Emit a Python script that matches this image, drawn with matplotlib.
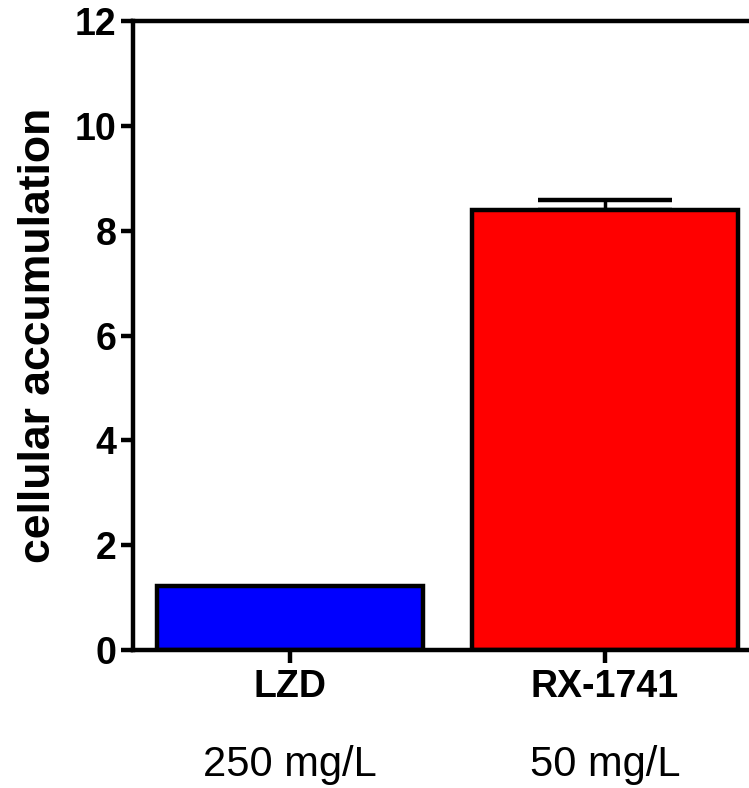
import numpy as np
import matplotlib
matplotlib.use('Agg')
import matplotlib.pyplot as plt
import matplotlib.transforms as mtransforms

plt.rcParams['font.family'] = ['Liberation Sans', 'DejaVu Sans']

drugs = ['LZD', 'RX-1741']
doses = ['250 mg/L', '50 mg/L']
accumulation = [1.22, 8.40]
sem_upper = [0.0, 0.19]
colors = ['#0000ff', '#ff0000']

fig = plt.figure(figsize=(7.49, 7.88), dpi=100)
ax = fig.add_axes([133/749, 1-650/788, 629/749, 629/788])

x = np.arange(len(drugs))
ax.bar(x, accumulation, width=0.845, color=colors, edgecolor='black', linewidth=3.2, zorder=2)
# only the upper half of the error bar shows above the bar
ax.errorbar(x[1], accumulation[1], yerr=[[0], [sem_upper[1]]], fmt='none',
            ecolor='black', elinewidth=2.5, capsize=48, capthick=3.2, zorder=1)

ax.set_xlim(-0.5, 1.5)
ax.set_ylim(0, 12)
ax.set_yticks(np.arange(0, 13, 2))
ax.set_xticks(x)
ax.set_xticklabels(drugs, fontsize=27, fontweight='bold')
for lbl in ax.get_yticklabels():
    lbl.set_fontsize(27)
    lbl.set_fontweight('bold')
ax.set_ylabel('cellular accumulation', fontsize=32, fontweight='bold', labelpad=11)

for s in ['left', 'bottom', 'top', 'right']:
    ax.spines[s].set_linewidth(3.2)
ax.tick_params(axis='both', width=3.2, length=9, pad=3)
ax.tick_params(axis='x', pad=5)

trans = mtransforms.blended_transform_factory(ax.transData, fig.transFigure)
for xi, d in zip(x, doses):
    ax.text(xi, 1-765/788, d, transform=trans, ha='center', va='center', fontsize=30)

fig.savefig('out.png', dpi=100)
